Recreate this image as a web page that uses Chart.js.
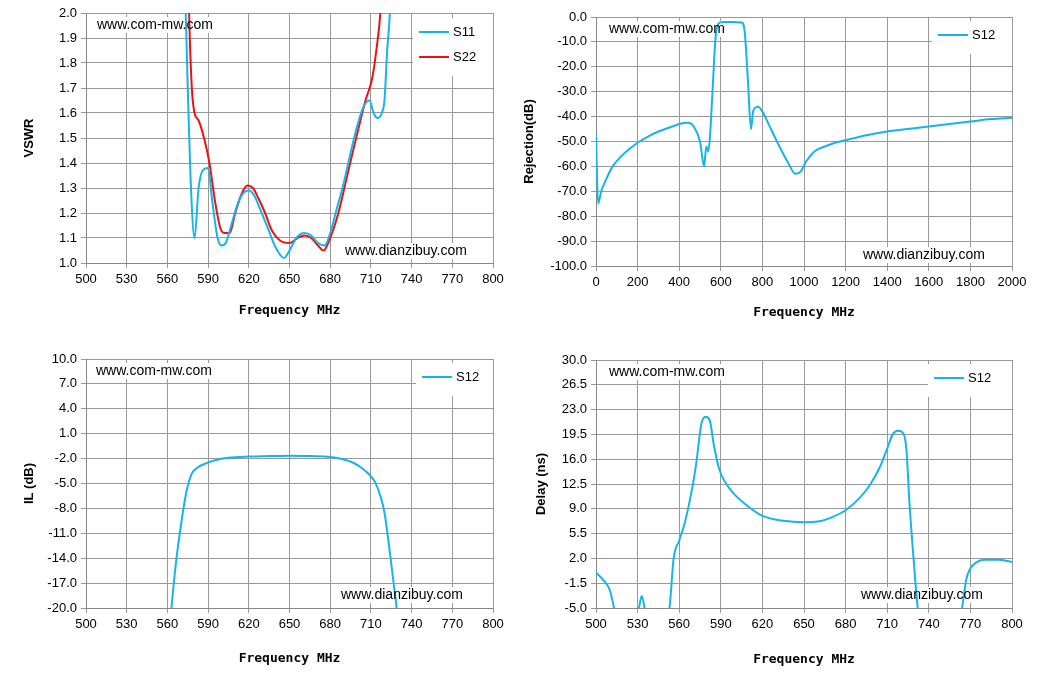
<!DOCTYPE html>
<html><head><meta charset="utf-8">
<script src="https://cdn.jsdelivr.net/npm/chart.js@4/dist/chart.umd.min.js"></script>
<style>
body{margin:0;background:#fff;width:1039px;height:677px;position:relative;overflow:hidden}
.p{position:absolute}
</style></head><body>
<div class="p" style="left:0;top:0;width:520px;height:335px"><canvas id="c1"></canvas></div>
<div class="p" style="left:520px;top:0;width:519px;height:335px"><canvas id="c2"></canvas></div>
<div class="p" style="left:0;top:335px;width:520px;height:342px"><canvas id="c3"></canvas></div>
<div class="p" style="left:520px;top:335px;width:519px;height:342px"><canvas id="c4"></canvas></div>
<script>
// ---- data ----
const vswrS11F = [570,573,575,577,580,583,586,590,593,597,600,603,607,612,616,620,624,628,634,640,646,650,655,661,666,671,676,680,685,690,695,700,705,709,712,715,718,720,722,724,726];
const vswrS11V = [2.6,2.1,1.7,1.35,1.1,1.3,1.37,1.38,1.25,1.1,1.07,1.08,1.15,1.24,1.28,1.29,1.27,1.22,1.14,1.06,1.02,1.05,1.1,1.12,1.11,1.08,1.07,1.12,1.22,1.32,1.44,1.55,1.63,1.65,1.6,1.58,1.6,1.65,1.85,2.0,2.3];
const vswrS22F = [574,576,578,580,583,587,591,595,599,602,606,610,615,619,623,627,632,637,643,650,656,661,666,671,675,680,686,693,700,706,711,714,717,720];
const vswrS22V = [2.6,2.0,1.7,1.6,1.57,1.5,1.4,1.25,1.14,1.12,1.12,1.2,1.28,1.31,1.3,1.26,1.2,1.13,1.09,1.08,1.1,1.11,1.1,1.07,1.05,1.1,1.2,1.36,1.52,1.65,1.74,1.85,2.0,2.3];
const rejF = [0,10,25,50,80,120,160,200,250,300,350,400,440,470,500,520,530,540,548,560,575,590,610,650,700,715,730,745,755,765,780,800,830,870,920,960,985,1010,1050,1100,1150,1200,1300,1400,1500,1600,1700,1800,1900,2000];
const rejV = [-47,-75,-70,-65,-60,-56,-53,-50.5,-48,-46,-44.5,-43,-42.5,-44,-50,-60,-52,-54,-48,-30,-8,-2.5,-2,-2,-2.2,-6,-25,-45,-38,-36.5,-36,-38,-43,-50,-58,-63,-62,-58,-54,-52,-50.5,-49.5,-47.5,-46,-45,-44,-43,-42,-41,-40.5];
const ilF = [560,563,566,570,574,578,582,588,595,605,620,635,650,665,680,690,697,703,708,713,717,720,723,726,729,732];
const ilV = [-26,-20,-15,-10,-6,-3.8,-3.1,-2.6,-2.2,-1.9,-1.75,-1.7,-1.65,-1.7,-1.8,-2.1,-2.5,-3.1,-3.8,-4.8,-6.5,-8.5,-12,-16,-20,-25];
const dlF = [500,505,510,513,516,528,531,533,535,537,549,553,556,560,564,568,572,576,579,582,585,589,594,600,610,620,635,650,660,670,680,690,698,705,710,714,718,722,724,726,729,732,735,738,760,764,767,770,774,780,790,800];
const dlV = [0,-1,-2.5,-5,-8,-8,-5,-3.3,-5,-8,-8,-5,2,4.5,7,10.5,15,21,22,21.5,18,14.5,12.5,11,9.3,8,7.3,7.1,7.2,7.8,8.8,10.5,12.5,15,17.5,19.5,20,19.5,17,10,2,-5,-9,-9,-9,-5,-1,0.6,1.4,1.8,1.8,1.5];
const X1_TICKS = [500,530,560,590,620,650,680,710,740,770,800];
const BLUE = '#16b4ea', RED = '#ee1111';

function pts(f, v){ return f.map((x,i)=>({x, y:v[i]})); }
const TXT_FONT='14px "Liberation Sans", Arial, sans-serif';

const deco = {
  id:'deco',
  beforeDatasetsDraw(c, a, o){
    const ctx=c.ctx, ca=c.chartArea;
    ctx.save(); ctx.font=TXT_FONT;
    for(const t of o.texts){
      const w=ctx.measureText(t.s).width;
      ctx.fillStyle='#fff'; ctx.fillRect(ca.left+t.dx-3, ca.top+t.dy-8, w+6, 16);
    }
    const L=o.legend;
    ctx.fillStyle='#fff'; ctx.fillRect(ca.left+L.dx, ca.top+L.dy, L.w, c.data.datasets.length*25+8);
    ctx.restore();
  },
  afterDraw(c, a, o){
    const ctx=c.ctx, ca=c.chartArea;
    ctx.save();
    ctx.font=TXT_FONT; ctx.textBaseline='middle'; ctx.fillStyle='#000';
    for(const t of o.texts) ctx.fillText(t.s, ca.left+t.dx, ca.top+t.dy);
    const L=o.legend;
    ctx.font='13px "Liberation Sans", Arial, sans-serif';
    c.data.datasets.forEach((ds,i)=>{
      const y=ca.top+L.dy+14+i*25, x=ca.left+L.dx+6;
      ctx.strokeStyle=ds.borderColor; ctx.lineWidth=2;
      ctx.beginPath(); ctx.moveTo(x,y); ctx.lineTo(x+30,y); ctx.stroke();
      ctx.fillStyle='#000'; ctx.fillText(ds.label, x+34, y);
    });
    ctx.restore();
  }
};

function make(id, box, area, ds, xs, ys, ytitle, texts, legend, xTicksExplicit, yTitlePad, xTitlePad){
  const padTop = area[1]-box[1], padRight = box[0]+box[2]-area[2];
  const yW = area[0]-box[0], xH = box[1]+box[3]-area[3];
  const tickFont = {family:'"Liberation Sans", Arial, sans-serif', size:13};
  new Chart(document.getElementById(id), {
    type:'line',
    data:{datasets: ds.map(d=>({label:d.label, data:d.data, borderColor:d.color, backgroundColor:d.color, borderWidth:2, pointRadius:0, cubicInterpolationMode:'monotone', fill:false}))},
    options:{
      responsive:true, maintainAspectRatio:false, animation:false,
      layout:{padding:{top:padTop, right:padRight, left:0, bottom:0}},
      plugins:{legend:{display:false}, tooltip:{enabled:false}, deco:{texts, legend}},
      scales:{
        x:{type:'linear', min:xs.min, max:xs.max,
           afterFit(s){s.height=xH;},
           afterBuildTicks(s){ if(xTicksExplicit) s.ticks = xTicksExplicit.map(v=>({value:v})); },
           ticks:{stepSize:xs.step, color:'#000', font:tickFont, maxRotation:0, autoSkip:false, padding:4, callback:v=>String(v)},
           grid:{color:'#999', tickLength:5, tickColor:'#999'}, border:{color:'#888'},
           title:{display:true, text:'Frequency MHz', color:'#000', font:{family:'"DejaVu Sans Mono", monospace', weight:'bold', size:13}, padding:{top:0, bottom:xTitlePad}}},
        y:{min:ys.min, max:ys.max,
           afterFit(s){s.width=yW;},
           afterBuildTicks(s){ const t=[]; for(let v=ys.min; v<=ys.max+1e-9; v+=ys.step) t.push({value:+v.toFixed(4)}); s.ticks=t; },
           ticks:{color:'#000', font:tickFont, padding:4, callback:v=>Number(v).toFixed(1)},
           grid:{color:'#999', tickLength:5, tickColor:'#999'}, border:{color:'#888'},
           title:{display:true, text:ytitle, color:'#000', font:{family:'"Liberation Sans", Arial, sans-serif', weight:'bold', size:13}, padding:{top:yTitlePad, bottom:0}}}
      }
    },
    plugins:[deco]
  });
}

make('c1',[0,0,520,335],[86,13,493,263],
  [{label:'S11',data:pts(vswrS11F,vswrS11V),color:BLUE},{label:'S22',data:pts(vswrS22F,vswrS22V),color:RED}],
  {min:500,max:800,step:30},{min:1,max:2,step:0.1},'VSWR',
  [{s:'www.com-mw.com',dx:11,dy:12},{s:'www.dianzibuy.com',dx:259,dy:238}],
  {dx:327,dy:5,w:80}, X1_TICKS, 22, 17);
make('c2',[520,0,519,335],[596,17,1012,266],
  [{label:'S12',data:pts(rejF,rejV),color:BLUE}],
  {min:0,max:2000,step:200},{min:-100,max:0,step:10},'Rejection(dB)',
  [{s:'www.com-mw.com',dx:13,dy:12},{s:'www.dianzibuy.com',dx:267,dy:238}],
  {dx:336,dy:4,w:80}, null, 2, 15);
make('c3',[0,335,520,342],[86,359,493,608],
  [{label:'S12',data:pts(ilF,ilV),color:BLUE}],
  {min:500,max:800,step:30},{min:-20,max:10,step:3},'IL (dB)',
  [{s:'www.com-mw.com',dx:10,dy:12},{s:'www.dianzibuy.com',dx:255,dy:236}],
  {dx:330,dy:4,w:77}, X1_TICKS, 22, 11);
make('c4',[520,335,519,342],[596,360,1012,608],
  [{label:'S12',data:pts(dlF,dlV),color:BLUE}],
  {min:500,max:800,step:30},{min:-5,max:30,step:3.5},'Delay (ns)',
  [{s:'www.com-mw.com',dx:13,dy:12},{s:'www.dianzibuy.com',dx:265,dy:235}],
  {dx:332,dy:4,w:84}, X1_TICKS, 14, 10);
</script></body></html>
